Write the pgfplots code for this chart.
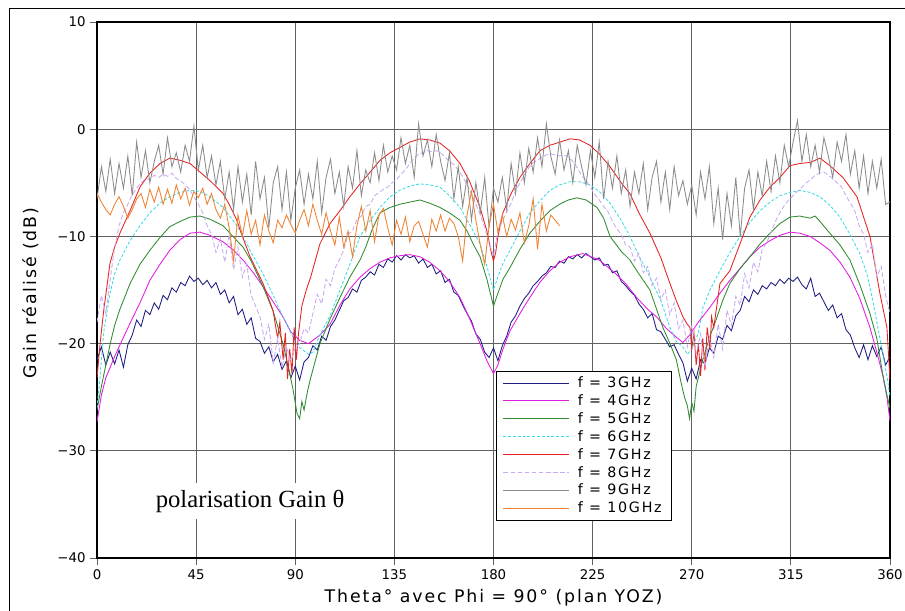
\documentclass[border=0pt]{standalone}
\usepackage{fontspec}
\setmainfont{DejaVu Sans}
\newfontfamily\labfont[LetterSpace=11]{DejaVu Sans}
\newfontfamily\legfont[LetterSpace=12]{DejaVu Sans}
\newfontfamily\serifont{Liberation Serif}
\usepackage{pgfplots}
\pgfplotsset{compat=1.18}
\definecolor{colthree}{RGB}{30,30,130}
\definecolor{colfour}{RGB}{225,30,225}
\definecolor{colfive}{RGB}{50,140,50}
\definecolor{colsix}{RGB}{60,220,230}
\definecolor{colseven}{RGB}{230,35,35}
\definecolor{coleight}{RGB}{200,170,240}
\definecolor{colnine}{RGB}{140,140,140}
\definecolor{colten}{RGB}{240,130,50}
\begin{document}
\begin{tikzpicture}
\useasboundingbox (0pt,0pt) rectangle (678.75pt,457.5pt);
\draw[line width=0.8pt] (6.9pt,-2pt) -- (6.9pt,450.9pt) -- (690pt,450.9pt);
\begin{axis}[
  at={(72.75pt,39pt)}, anchor=south west, scale only axis,
  width=594.75pt, height=402pt,
  xmin=0, xmax=360, ymin=-40, ymax=10,
  xtick={0,45,...,360}, ytick={-40,-30,...,10},
  yticklabels={−40,−30,−20,−10,0,10},
  grid=major, major grid style={color=black!62, line width=0.6pt},
  axis line style={line width=0.8pt},
  tick align=outside, tick pos=left, major tick length=5pt,
  tick style={color=black!62, line width=0.6pt},
  ticklabel style={font=\fontsize{10}{12}\selectfont},
  /pgf/number format/assume math mode=true,
  xlabel={Theta° avec Phi = 90° (plan YOZ)},
  xlabel style={font=\labfont\fontsize{13}{15}\selectfont, at={(axis description cs:0.5,0)}, anchor=base, yshift=-33pt},
  ylabel={Gain réalisé (dB)},
  ylabel style={font=\labfont\fontsize{13}{15}\selectfont, at={(axis description cs:0,0.494)}, anchor=center, yshift=50pt},
  legend cell align=left,
  legend style={at={(0.503,0.349)}, anchor=north west, draw=black, line width=0.6pt, fill=white,
    font=\legfont\fontsize{10.7}{12}\selectfont, inner xsep=5pt, inner ysep=2pt, row sep=-0.2pt,
    /tikz/every odd column/.append style={column sep=4.5pt}},
  legend image code/.code={\draw[#1, line width=0.75pt] (0pt,0pt) -- (49pt,0pt);},
]
% 3 GHz
\addplot[colthree, line width=0.65pt] coordinates {
(0,-21.5) (2,-20.3) (4,-22.0) (6,-20.8) (8,-21.9) (10,-20.6) (12,-22.2) (14,-20.1) (16,-19.2) (18,-17.8)
(20,-18.4) (22,-16.9) (24,-17.3) (26,-16.2) (28,-16.8) (30,-15.5) (32,-15.9) (34,-14.8) (36,-15.2) (38,-14.3)
(40,-14.6) (42,-13.7) (44,-14.2) (46,-13.9) (48,-14.5) (50,-14.1) (52,-14.8) (54,-14.3) (56,-15.4) (58,-15.0)
(60,-16.2) (62,-15.6) (64,-17.3) (66,-16.8) (68,-18.2) (70,-17.6) (72,-19.5) (74,-19.8) (76,-20.9) (78,-20.3)
(80,-21.7) (82,-21.0) (84,-22.4) (86,-21.6) (88,-23.2) (90,-22.1) (92,-23.4) (94,-21.7) (96,-21.3) (98,-20.2)
(100,-20.6) (102,-19.3) (104,-19.7) (106,-18.4) (108,-17.8) (110,-16.9) (112,-16.0) (114,-15.7) (116,-14.9) (118,-15.2)
(120,-14.1) (122,-13.8) (124,-13.3) (126,-13.6) (128,-12.6) (130,-12.9) (132,-12.1) (134,-12.4) (136,-11.8) (138,-12.2)
(140,-11.7) (142,-12.0) (144,-11.8) (146,-12.5) (148,-12.1) (150,-12.9) (152,-12.6) (154,-13.5) (156,-13.2) (158,-14.3)
(160,-14.0) (162,-15.2) (164,-15.5) (166,-16.4) (168,-17.2) (170,-17.9) (172,-19.1) (174,-19.6) (176,-20.8) (178,-21.3)
(180,-20.4) (182,-21.6) (184,-20.2) (186,-19.3) (188,-18.0) (190,-17.4) (192,-16.5) (194,-15.8) (196,-15.3) (198,-14.6)
(200,-14.2) (202,-13.7) (204,-13.4) (206,-12.8) (208,-12.9) (210,-12.3) (212,-12.5) (214,-11.9) (216,-12.1) (218,-11.7)
(220,-12.0) (222,-11.6) (224,-11.9) (226,-12.2) (228,-12.0) (230,-12.7) (232,-12.6) (234,-13.4) (236,-13.2) (238,-14.2)
(240,-14.6) (242,-15.1) (244,-15.5) (246,-16.3) (248,-16.8) (250,-17.6) (252,-17.2) (254,-18.7) (256,-18.9) (258,-19.6)
(260,-20.3) (262,-20.1) (264,-21.0) (266,-21.8) (268,-23.5) (270,-22.3) (272,-23.3) (274,-21.5) (276,-21.9) (278,-20.4)
(280,-20.9) (282,-19.3) (284,-19.6) (286,-18.3) (288,-18.8) (290,-17.4) (292,-16.9) (294,-15.6) (296,-16.1) (298,-15.0)
(300,-15.4) (302,-14.6) (304,-14.9) (306,-14.3) (308,-14.6) (310,-14.0) (312,-14.4) (314,-13.9) (316,-14.2) (318,-13.8)
(320,-14.5) (322,-14.9) (324,-13.9) (326,-15.6) (328,-15.3) (330,-16.1) (332,-16.9) (334,-16.4) (336,-17.6) (338,-17.2)
(340,-18.7) (342,-19.2) (344,-20.4) (346,-21.3) (348,-20.1) (350,-21.5) (352,-20.2) (354,-21.2) (356,-20.3) (358,-22.0)
(360,-21.2)};
\addlegendentry{f = 3GHz}
% 4 GHz
\addplot[colfour, line width=0.65pt] coordinates {
(0,-27.3) (2,-24.8) (4,-23.2) (6,-22.2) (8,-21.2) (10,-20.3) (12.5,-19.2) (15,-18.1) (19.5,-16.2) (24,-14.1)
(28.6,-12.6) (33,-11.3) (37.7,-10.3) (42.2,-9.7) (46.8,-9.6) (51.3,-9.9) (57.2,-10.5) (62,-11.3) (66.3,-12.2) (71,-13.4)
(75.4,-14.7) (80,-16.1) (84.4,-17.5) (88,-18.9) (92,-19.7) (96,-20) (101.2,-19.2) (105.8,-18.2) (110.3,-16.4) (114.8,-14.9)
(119.4,-13.8) (124,-13) (128.5,-12.4) (133,-12) (137.5,-11.8) (142,-11.7) (146.6,-11.9) (151,-12.4) (155.7,-13.2) (160,-14.2)
(164.8,-15.7) (169,-17.6) (173.9,-20) (177,-21.6) (180,-22.8) (182,-22) (184.3,-20.5) (187.5,-18.8) (192,-17.2) (196.5,-15.7)
(201,-14.3) (205.6,-13.2) (210.2,-12.4) (214.7,-11.9) (220.6,-11.6) (228,-12.2) (235.6,-13.5) (240,-14.4) (245,-15.7) (250,-16.8)
(254,-17.5) (258.5,-18.6) (263,-19.4) (266,-19.9) (269,-19.2) (273,-18) (278.3,-16.6) (282.8,-15.3) (287.3,-14.1) (291.9,-13)
(296.4,-11.9) (301,-11) (305.5,-10.4) (310,-9.9) (314.6,-9.6) (319,-9.7) (323.7,-10) (328.2,-10.6) (332.7,-11.3) (337.3,-12.4)
(341.8,-13.8) (346.3,-15.8) (350.9,-18.5) (354,-20.8) (356.8,-23) (358.6,-25) (360,-27.2)};
\addlegendentry{f = 4GHz}
% 5 GHz
\addplot[colfive, line width=0.65pt] coordinates {
(0,-26.2) (2,-24) (4,-22) (6,-20) (8,-18.3) (10.4,-16.8) (15,-14.4) (19.5,-12.6) (24,-11.3) (28.6,-10.1)
(33,-9.1) (37.7,-8.6) (42.2,-8.2) (46.8,-8.1) (51.3,-8.4) (57.2,-9) (63.5,-10.4) (66.3,-11) (70,-12.3) (75.4,-14.7)
(80,-17) (84.4,-20) (87,-22.3) (89,-24.3) (90.8,-26.5) (92,-27) (93,-25.4) (94,-26.2) (95.5,-24.5) (97,-23.2)
(101.2,-20) (105.8,-17.7) (110.3,-15.7) (114.8,-13.8) (119.4,-12.2) (122,-11) (125,-9.3) (128.5,-7.8) (133,-7.3) (137.5,-7)
(142,-6.8) (146.6,-6.6) (151,-6.9) (155.7,-7.3) (160,-7.8) (164.8,-8.5) (168,-9.5) (171,-10.8) (173.9,-11.9) (177,-14)
(180,-16.5) (182,-15.3) (184.3,-14) (187.5,-12.9) (192,-11.2) (196.5,-9.7) (201,-8.6) (205.6,-7.6) (210,-7) (214,-6.6)
(217.9,-6.4) (222,-6.6) (227,-7.3) (230,-8.3) (232.9,-10) (238,-11.4) (241.9,-12.2) (246,-13.5) (251,-15) (256.9,-18.5)
(260.1,-20) (263,-21.5) (265,-23.5) (266.7,-25) (268,-25.8) (269,-27) (270,-25.5) (271,-26.3) (272,-24) (275,-21.5)
(278.3,-19.3) (281,-17.8) (284,-16) (287.3,-14.4) (291.9,-13) (296.4,-11.9) (301,-10.7) (305.5,-9.7) (310,-8.8) (314.6,-8.2)
(319,-8.1) (323.7,-8.3) (326,-8.1) (328.2,-8.6) (332.7,-9.7) (337.3,-10.8) (341.8,-12.2) (346.3,-14.5) (350.9,-17.2) (354,-19.5)
(356.8,-23) (358.6,-24.8) (360,-26)};
\addlegendentry{f = 5GHz}
% 6 GHz
\addplot[colsix, line width=0.65pt, dash pattern=on 2.2pt off 1.4pt] coordinates {
(0,-26) (1.4,-23) (3,-19) (5.9,-15.3) (8,-13.5) (10.4,-12.2) (15,-10.4) (19.5,-9) (24,-7.8) (28.6,-6.9)
(33,-6.3) (37.7,-5.9) (42.2,-5.7) (46.8,-5.8) (51.3,-6.3) (57.2,-7.3) (63.5,-9) (66.3,-10) (70,-11.5) (75.4,-13.5)
(80,-15.5) (84.4,-17.5) (88,-19) (91,-20.2) (93.5,-20.6) (96,-21) (98,-20.8) (101.2,-19.2) (105.8,-17.4) (110.3,-15)
(115,-12.5) (119.4,-10) (124,-8.5) (128.5,-7.3) (133,-6.3) (137.5,-5.7) (142,-5.3) (146.6,-5.1) (151,-5.2) (155.7,-5.4)
(160,-6.2) (164.8,-7.3) (170,-9.2) (173.9,-10.7) (177,-12.8) (180,-15) (182,-13.8) (184.3,-12.5) (187.5,-11.3) (192,-9.5)
(196.5,-7.8) (201,-6.7) (205.6,-5.7) (210,-5.2) (214.7,-4.9) (219,-4.9) (223.8,-5.2) (228,-5.8) (232.9,-6.9) (238,-8.5)
(241.9,-10) (246,-11.8) (251,-13.8) (256,-16) (260.1,-18.5) (263,-19.8) (266,-20.3) (268,-21) (270,-20.5) (273,-19)
(275.1,-16.6) (278.3,-15) (282.8,-13.2) (287.3,-11.5) (291.9,-10) (296.4,-8.7) (301,-7.6) (305.5,-6.8) (310,-6.2) (314.6,-5.9)
(319.1,-5.7) (323.7,-5.9) (328.2,-6.3) (332.7,-7.1) (337.3,-8.2) (341.8,-9.8) (346.3,-11.6) (349.5,-13.5) (352.2,-16) (355.4,-19.5)
(358.6,-23) (360,-25)};
\addlegendentry{f = 6GHz}
% 7 GHz
\addplot[colseven, line width=0.65pt] coordinates {
(0,-23.2) (1.4,-20) (3,-17) (5.9,-12.5) (8,-11) (10.4,-9.7) (15,-7.6) (19.5,-5.4) (24,-4.1) (28.6,-3.2)
(33,-2.7) (37.7,-2.9) (42.2,-3.2) (46.8,-4) (51.3,-4.8) (57.2,-6) (60,-7) (63.5,-8.5) (66,-10) (69.5,-11.9)
(75.4,-14.4) (79.9,-16.9) (82,-19.5) (83,-18) (84.5,-21.5) (85.5,-19) (86.5,-23.3) (87.5,-20.5) (88.5,-22.8) (89.5,-18.5)
(90.5,-21.5) (91.5,-19) (93,-16.5) (95,-15) (97,-13.8) (101.2,-10.7) (105.8,-8.8) (110.3,-7.6) (114.8,-6.3) (119.4,-5.1)
(124,-4) (128.5,-2.9) (133,-2.2) (137.5,-1.7) (142,-1.2) (146.6,-0.9) (151,-1) (155.7,-1.3) (160,-2) (164.8,-3.2)
(169,-4.8) (173.9,-7.3) (177,-9.5) (179,-11.5) (180,-12.3) (181,-11.5) (182,-10) (184.3,-7.8) (188,-6) (192,-4.5)
(196.5,-3.2) (201.1,-2) (205.6,-1.5) (210.2,-1.2) (214.7,-0.9) (219,-1) (223.8,-1.5) (228,-2.3) (232.9,-3.5) (238,-5)
(241.9,-6) (246,-7.8) (251,-9.7) (256,-12) (260.1,-14.4) (263,-16) (266,-17.5) (268,-18.2) (269.2,-18.5) (270,-20.5)
(271,-19) (272,-22) (273,-20) (274,-23) (275,-19.5) (276,-22.5) (277,-18.5) (278.3,-20.5) (279,-17.5) (280,-18.5)
(282.8,-14.4) (287.3,-13.2) (291.9,-10.7) (296.4,-8.2) (301,-6.6) (305.5,-5.4) (310,-4.5) (314.6,-3.4) (319,-3.2) (323.7,-3.1)
(328.2,-2.7) (332.7,-3.4) (338.6,-4.5) (345,-6.3) (350.9,-10) (355.4,-15.3) (358.6,-18.5) (360,-23.4)};
\addlegendentry{f = 7GHz}
% 8 GHz
\addplot[coleight, line width=0.65pt, dash pattern=on 3.5pt off 1.8pt] coordinates {
(0,-18.0) (2,-15.5) (4,-17.2) (6,-14.0) (8,-11.0) (10,-9.0) (12,-7.8) (14,-7.0) (16,-6.1) (18,-5.5)
(20,-5.0) (22,-4.6) (24,-4.7) (26,-4.3) (28,-4.5) (30,-4.2) (32,-4.4) (34,-4.1) (36,-4.6) (38,-4.8)
(40,-5.2) (42,-5.6) (44,-6.3) (46,-7.0) (48,-7.8) (50,-9.0) (52,-9.8) (54,-11.5) (56,-10.2) (58,-12.4)
(60,-9.8) (62,-13.1) (64,-11.0) (66,-13.8) (68,-12.6) (70,-15.5) (72,-16.5) (74,-17.5) (76,-19.6) (78,-18.2)
(80,-21.8) (82,-19.5) (84,-22.2) (86,-20.3) (88,-21.6) (90,-20.4) (92,-20.0) (94,-18.6) (96,-19.0) (98,-17.2)
(100,-15.4) (102,-16.3) (104,-14.0) (106,-14.6) (108,-13.0) (110,-12.2) (112,-11.3) (114,-9.8) (116,-9.5) (118,-8.4)
(120,-8.1) (122,-7.2) (124,-7.0) (126,-6.2) (128,-5.9) (130,-5.6) (132,-5.4) (134,-5.0) (136,-4.7) (138,-4.2)
(140,-3.8) (142,-3.2) (144,-2.7) (146,-2.3) (148,-2.2) (150,-2.0) (152,-2.1) (154,-2.0) (156,-2.2) (158,-2.6)
(160,-3.0) (162,-3.3) (164,-3.8) (166,-4.4) (168,-5.2) (170,-6.0) (172,-7.0) (174,-8.0) (176,-9.2) (178,-10.6)
(180,-11.8) (182,-9.5) (184,-8.6) (186,-7.7) (188,-6.9) (190,-5.8) (192,-5.0) (194,-4.3) (196,-3.6) (198,-3.1)
(200,-2.9) (202,-2.6) (204,-2.4) (206,-2.3) (208,-2.4) (210,-2.5) (212,-2.4) (214,-2.6) (216,-3.0) (218,-3.6)
(220,-4.3) (222,-4.8) (224,-5.4) (226,-6.1) (228,-6.6) (230,-7.2) (232,-7.7) (234,-8.6) (236,-9.3) (238,-9.8)
(240,-10.8) (242,-11.0) (244,-12.3) (246,-11.6) (248,-13.4) (250,-12.8) (252,-14.6) (254,-13.9) (256,-15.9) (258,-15.0)
(260,-17.3) (262,-16.2) (264,-18.6) (266,-17.8) (268,-20.3) (270,-18.4) (272,-21.0) (274,-19.1) (276,-22.2) (278,-19.4)
(280,-21.3) (282,-18.2) (284,-20.5) (286,-16.9) (288,-18.3) (290,-15.6) (292,-16.4) (294,-13.5) (296,-14.8) (298,-12.4)
(300,-13.3) (302,-11.2) (304,-10.6) (306,-9.6) (308,-8.6) (310,-7.8) (312,-7.1) (314,-6.6) (316,-6.2) (318,-5.8)
(320,-5.4) (322,-5.0) (324,-4.7) (326,-4.3) (328,-4.1) (330,-4.0) (332,-4.3) (334,-4.6) (336,-5.0) (338,-5.4)
(340,-6.2) (342,-6.9) (344,-7.6) (346,-9.0) (348,-9.8) (350,-11.5) (352,-10.7) (354,-13.8) (356,-12.8) (358,-15.5)
(360,-17.2)};
\addlegendentry{f = 8GHz}
% 9 GHz
\addplot[colnine, line width=0.65pt] coordinates {
(0,-6.5) (2,-3.5) (4,-5.8) (6,-2.8) (8,-6.0) (10,-3.2) (12,-5.5) (14,-2.5) (16,-6.2) (18,-1.2)
(20,-4.5) (22,-2.0) (24,-5.0) (26,-3.0) (28,-1.5) (30,-4.2) (32,-0.8) (34,-3.5) (36,-2.2) (38,-4.0)
(40,-1.5) (42,-3.0) (44,0.3) (46,-3.8) (48,-1.5) (50,-4.5) (52,-2.5) (54,-5.2) (56,-3.0) (58,-6.5)
(60,-4.0) (62,-7.5) (64,-3.5) (66,-6.8) (68,-4.2) (70,-8.0) (72,-3.0) (74,-6.5) (76,-4.5) (78,-9.2)
(80,-5.0) (82,-3.5) (84,-7.5) (86,-4.0) (88,-8.5) (90,-5.5) (92,-3.8) (94,-7.0) (96,-4.2) (98,-6.5)
(100,-3.0) (102,-7.8) (104,-4.5) (106,-2.8) (108,-6.0) (110,-4.0) (112,-7.2) (114,-3.5) (116,-5.5) (118,-2.0)
(120,-6.2) (122,-3.8) (124,-5.0) (126,-2.2) (128,-4.8) (130,-1.5) (132,-4.0) (134,-2.5) (136,-3.8) (138,-0.8)
(140,-3.2) (142,-1.5) (144,-4.5) (146,0.5) (148,-2.5) (150,-1.0) (152,-3.5) (154,-0.5) (156,-3.0) (158,-4.8)
(160,-2.2) (162,-6.5) (164,-3.5) (166,-7.2) (168,-4.5) (170,-8.5) (172,-5.0) (174,-7.8) (176,-4.5) (178,-9.2)
(180,-5.5) (182,-6.8) (184,-4.5) (186,-7.5) (188,-3.2) (190,-6.0) (192,-2.2) (194,-5.0) (196,-1.8) (198,-4.0)
(200,-0.8) (202,-3.5) (204,0.5) (206,-2.5) (208,-4.2) (210,-1.0) (212,-3.8) (214,-2.0) (216,-5.0) (218,-1.5)
(220,-3.5) (222,-5.2) (224,-2.0) (226,-4.5) (228,-1.2) (230,-6.5) (232,-3.0) (234,-5.5) (236,-2.5) (238,-6.0)
(240,-3.8) (242,-7.2) (244,-4.0) (246,-6.0) (248,-3.2) (250,-7.5) (252,-4.5) (254,-3.0) (256,-6.8) (258,-4.0)
(260,-7.5) (262,-3.5) (264,-6.2) (266,-4.8) (268,-7.0) (270,-5.2) (272,-8.0) (274,-4.0) (276,-6.5) (278,-3.5)
(280,-8.8) (282,-5.5) (284,-10.3) (286,-6.0) (288,-9.0) (290,-4.5) (292,-10.0) (294,-5.5) (296,-3.8) (298,-7.5)
(300,-4.0) (302,-6.2) (304,-3.0) (306,-5.8) (308,-2.5) (310,-5.0) (312,-1.5) (314,-3.5) (316,-1.2) (318,0.8)
(320,-3.0) (322,-0.5) (324,-3.5) (326,-1.5) (328,-4.0) (330,-0.8) (332,-2.5) (334,-4.5) (336,-1.2) (338,-3.0)
(340,-0.5) (342,-4.2) (344,-2.0) (346,-5.5) (348,-2.5) (350,-6.0) (352,-3.0) (354,-5.5) (356,-2.8) (358,-7.0)
(360,-6.8)};
\addlegendentry{f = 9GHz}
% 10 GHz
\addplot[colten, line width=0.65pt] coordinates {
(0,-6.0) (2,-6.8) (4,-7.5) (6,-8.0) (8,-7.0) (10,-6.3) (12,-7.2) (14,-8.3) (16,-7.5) (18,-6.5)
(20,-6.0) (22,-7.3) (24,-5.6) (26,-6.8) (28,-5.4) (30,-7.0) (32,-5.6) (34,-6.9) (36,-5.2) (38,-6.5)
(40,-5.5) (42,-7.1) (44,-5.8) (46,-6.4) (48,-5.5) (50,-7.0) (52,-6.0) (54,-7.5) (56,-8.3) (58,-7.0)
(60,-9.2) (62,-12.3) (64,-8.0) (66,-10.0) (68,-7.6) (70,-9.8) (72,-8.5) (74,-10.8) (76,-8.0) (78,-9.5)
(80,-10.6) (82,-8.5) (84,-9.2) (86,-8.0) (88,-8.9) (90,-9.7) (92,-8.5) (94,-7.5) (96,-9.0) (98,-7.0)
(100,-8.5) (102,-9.8) (104,-7.8) (106,-9.5) (108,-10.8) (110,-8.2) (112,-11.0) (114,-9.5) (116,-11.9) (118,-9.0)
(120,-7.2) (122,-9.5) (124,-7.6) (126,-10.5) (128,-8.0) (130,-7.4) (132,-9.2) (134,-10.8) (136,-8.5) (138,-9.8)
(140,-8.2) (142,-10.5) (144,-9.0) (146,-8.6) (148,-9.8) (150,-11.0) (152,-8.4) (154,-9.5) (156,-8.0) (158,-9.5)
(160,-8.3) (162,-8.8) (164,-10.0) (166,-12.3) (168,-8.0) (170,-5.8) (172,-8.5) (174,-10.8) (176,-12.6) (178,-9.0)
(180,-7.0) (182,-9.6) (184,-8.0) (186,-10.0) (188,-8.4) (190,-9.4) (192,-7.8) (194,-10.6) (196,-9.0) (198,-6.5)
(200,-11.2) (202,-7.0) (204,-9.5) (206,-8.0) (208,-8.5) (210,-9.0)};
\addlegendentry{f = 10GHz}
\node[fill=white, inner xsep=4pt, inner ysep=5pt, font=\serifont\fontsize{18.5}{21}\selectfont] at (axis cs:69.5,-34.7) {polarisation Gain θ};
\end{axis}
\end{tikzpicture}
\end{document}
